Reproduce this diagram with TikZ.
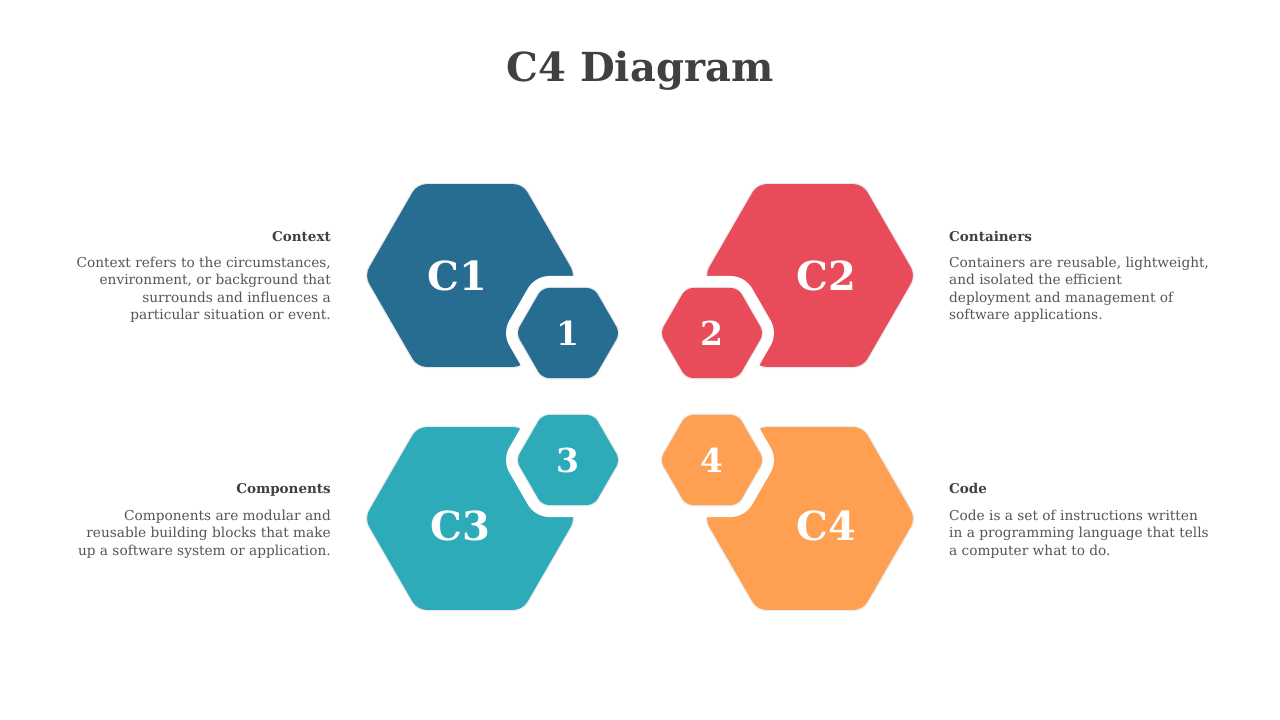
\documentclass[tikz,border=0pt]{standalone}
\usepackage{fontspec}
\setmainfont{DejaVu Serif}
\usetikzlibrary{shapes.geometric}
\definecolor{CfBlue}{RGB}{39,109,146}
\definecolor{CfRed}{RGB}{232,75,90}
\definecolor{CfTeal}{RGB}{45,171,185}
\definecolor{CfOrange}{RGB}{254,159,81}
\definecolor{CfInk}{RGB}{64,64,64}
\definecolor{CfBody}{RGB}{85,85,85}
\definecolor{CfShade}{RGB}{234,234,234}
\tikzset{
  cf/bighex/.style={
    regular polygon,
    regular polygon sides=6,
    minimum size=211pt,
    inner sep=0pt,
    rounded corners=9pt,
    preaction={draw=CfShade, line width=2.5pt}
  },
  cf/smallhex/.style={
    regular polygon,
    regular polygon sides=6,
    minimum size=104pt,
    inner sep=0pt,
    rounded corners=7pt,
    preaction={draw=white, line width=24pt, line join=round},
    preaction={draw=CfShade, line width=2.5pt},
    text=white,
    font=\fontsize{33}{33}\selectfont\bfseries
  },
  cf/biglabel/.style={text=white, inner sep=0pt, font=\fontsize{40}{40}\selectfont\bfseries},
  cf/title/.style={text=CfInk, inner sep=0pt, font=\fontsize{40}{40}\selectfont\bfseries},
  cf/head/.style={text=CfInk, inner sep=0pt, font=\fontsize{13.5}{16}\selectfont\bfseries},
  cf/body/.style={text=CfBody, inner sep=0pt, font=\fontsize{13.7}{17.5}\selectfont}
}
\begin{document}
\begin{tikzpicture}[x=1pt,y=-1pt]
  \fill[white] (0,0) rectangle (1280,720);
  \useasboundingbox (0,0) rectangle (1280,720);

  \node[cf/title,anchor=base] (title) at (640,81) {C4 Diagram};

  % big hexagons
  \node[cf/bighex,fill=CfBlue] (hexA) at (470,275.5) {};
  \node[cf/bighex,fill=CfRed] (hexB) at (810,275.5) {};
  \node[cf/bighex,fill=CfTeal] (hexC) at (470,518.5) {};
  \node[cf/bighex,fill=CfOrange] (hexD) at (810,518.5) {};
  \node[cf/biglabel] (labA) at (457,276) {C1};
  \node[cf/biglabel] (labB) at (826,276) {C2};
  \node[cf/biglabel] (labC) at (460,526) {C3};
  \node[cf/biglabel] (labD) at (826,526) {C4};

  % small hexagons
  \node[cf/smallhex,fill=CfBlue] (numA) at (568,333) {1};
  \node[cf/smallhex,fill=CfRed] (numB) at (712,333) {2};
  \node[cf/smallhex,fill=CfTeal] (numC) at (568,460) {3};
  \node[cf/smallhex,fill=CfOrange] (numD) at (712,460) {4};

  % texts (base = last line)
  \node[cf/head,anchor=base east] (headA) at (331,241) {Context};
  \node[cf/body,anchor=base east,align=right] (bodyA) at (331,319.5)
    {Context refers to the circumstances,\\environment, or background that\\surrounds and influences a\\particular situation or event.};
  \node[cf/head,anchor=base west] (headB) at (949,241) {Containers};
  \node[cf/body,anchor=base west,align=left] (bodyB) at (949,319.5)
    {Containers are reusable, lightweight,\\and isolated the efficient\\deployment and management of\\software applications.};
  \node[cf/head,anchor=base east] (headC) at (331,493) {Components};
  \node[cf/body,anchor=base east,align=right] (bodyC) at (331,555)
    {Components are modular and\\reusable building blocks that make\\up a software system or application.};
  \node[cf/head,anchor=base west] (headD) at (949,493) {Code};
  \node[cf/body,anchor=base west,align=left] (bodyD) at (949,555)
    {Code is a set of instructions written\\in a programming language that tells\\a computer what to do.};
\end{tikzpicture}
\end{document}
